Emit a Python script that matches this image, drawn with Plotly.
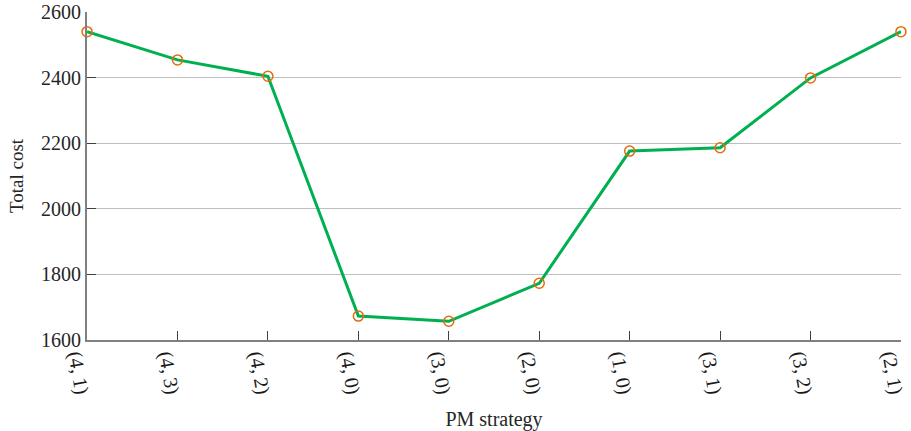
import plotly.graph_objects as go

# PM strategy combinations and their total cost
strategies = ["(4, 1)", "(4, 3)", "(4, 2)", "(4, 0)", "(3, 0)",
              "(2, 0)", "(1, 0)", "(3, 1)", "(3, 2)", "(2, 1)"]
total_cost = [2540, 2454, 2404, 1673, 1657, 1773, 2176, 2186, 2399, 2540]
y_ticks = [1600, 1800, 2000, 2200, 2400, 2600]

FONT = "Liberation Serif, Times New Roman, serif"

fig = go.Figure()
fig.add_trace(go.Scatter(
    x=list(range(len(strategies))),
    y=total_cost,
    mode="lines+markers",
    line=dict(color="#00b050", width=3),
    marker=dict(symbol="circle-open", size=10, color="#e46c0a",
                line=dict(width=1.5, color="#e46c0a")),
    showlegend=False,
    cliponaxis=False,
))

fig.update_layout(
    width=911, height=431,
    margin=dict(l=87, r=10, t=12, b=91),
    paper_bgcolor="white", plot_bgcolor="white",
    font=dict(family=FONT, size=20, color="#262626"),
    xaxis=dict(
        range=[-0.0005, len(strategies) - 1 + 0.0005],
        tickmode="array",
        tickvals=list(range(len(strategies))),
        ticktext=strategies,
        tickangle=80,
        ticklabelshift=-9,
        ticklabelstandoff=-5,
        ticklabeloverflow="allow",
        tickfont=dict(family=FONT, size=20, color="#1a1a1a"),
        ticks="inside", ticklen=9, tickcolor="#404040", tickwidth=1,
        showline=True, linecolor="#808080", linewidth=2,
        showgrid=False, zeroline=False,
        automargin=False,
        title=dict(text="PM strategy", standoff=33,
                   font=dict(family=FONT, size=20)),
    ),
    yaxis=dict(
        range=[1600, 2600],
        tickmode="array",
        tickvals=y_ticks,
        tickfont=dict(family=FONT, size=20, color="#262626"),
        ticks="inside", ticklen=9, tickcolor="#404040", tickwidth=1,
        showline=True, linecolor="#808080", linewidth=2,
        showgrid=True, gridcolor="#bfbfbf", gridwidth=1,
        zeroline=False,
        automargin=False,
        title=dict(text="Total cost", standoff=12,
                   font=dict(family=FONT, size=19)),
    ),
)

fig.write_html("out.html")
